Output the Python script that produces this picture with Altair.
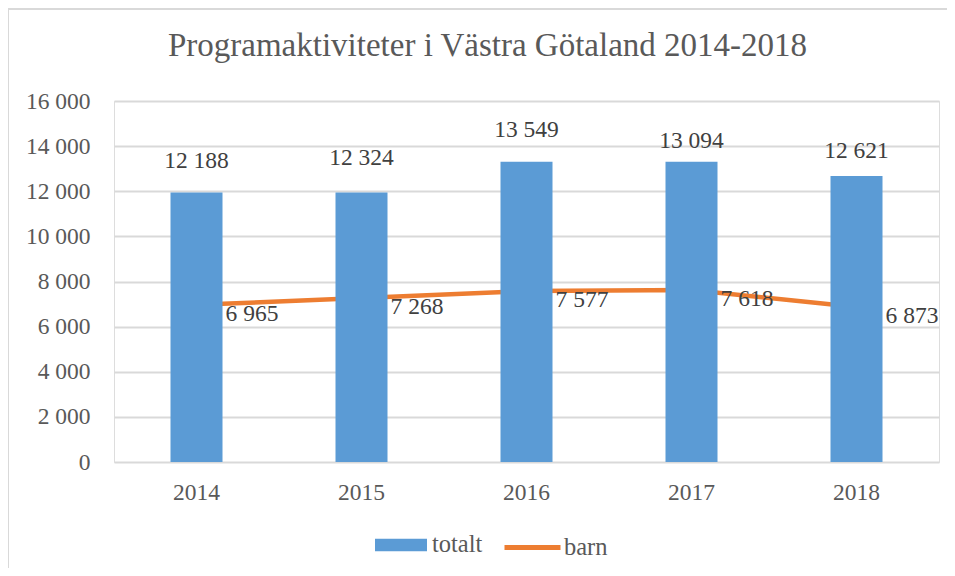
import altair as alt
import pandas as pd

years = ["2014", "2015", "2016", "2017", "2018"]
totalt_bar = [11940, 11940, 13310, 13310, 12680]   # bar heights as drawn
totalt_label = [12188, 12324, 13549, 13094, 12621]  # printed labels
barn = [6965, 7268, 7577, 7618, 6873]
y_ticks = [0, 2000, 4000, 6000, 8000, 10000, 12000, 14000, 16000]

def fmt(v):
    return f"{v:,}".replace(",", " ")

df = pd.DataFrame({
    "year": years,
    "totalt": totalt_bar,
    "totalt_lab": totalt_label,
    "totalt_txt": [fmt(v) for v in totalt_label],
    "barn": barn,
    "barn_txt": [fmt(v) for v in barn],
    "s_tot": ["totalt"] * 5,
    "s_barn": ["barn"] * 5,
})

FONT = "'Liberation Serif', 'Times New Roman', serif"
BLUE = "#5B9BD5"
ORANGE = "#ED7D31"
W, H = 825, 361

x = alt.X("year:N", title=None,
          scale=alt.Scale(paddingInner=0, paddingOuter=0),
          axis=alt.Axis(labelAngle=0, ticks=False, tickSize=0, domain=False, grid=False,
                        labelFont=FONT, labelFontSize=23.5, labelColor="#595959",
                        labelPadding=30, labelBaseline="middle"))
yscale = alt.Scale(domain=[0, 16000], nice=False)
yaxis = alt.Axis(values=y_ticks, ticks=False, tickSize=0, domain=False, grid=True,
                 gridColor="#D9D9D9", gridWidth=2, labelFont=FONT, labelFontSize=23.5,
                 labelColor="#595959", labelPadding=24,
                 labelExpr="replace(format(datum.value, ','), ',', ' ')")

leg_common = dict(title=None, orient="none", direction="horizontal",
                  labelFont=FONT, labelFontSize=24.5, labelColor="#595959")

bar_legend = alt.Legend(legendX=261, legendY=418, symbolSize=2704,
                        symbolType="M-1,-0.244H1V0.244H-1Z", symbolStrokeWidth=0,
                        labelOffset=5, **leg_common)
line_legend = alt.Legend(legendX=388, legendY=416, symbolSize=3136,
                         symbolType="stroke", symbolStrokeWidth=5,
                         labelOffset=1, **leg_common)

base = alt.Chart(df)

frame = alt.Chart(pd.DataFrame({"k": [0]})).mark_rect(
    fill=None, stroke="#D9D9D9", strokeWidth=2
).encode(x=alt.value(-106), x2=alt.value(W + 80), y=alt.value(-92), y2=alt.value(H + 160))

line = base.mark_line(strokeWidth=4.5, strokeCap="round").encode(
    x=x,
    y=alt.Y("barn:Q", scale=yscale, axis=yaxis, title=None),
    stroke=alt.Stroke("s_barn:N", scale=alt.Scale(domain=["barn"], range=[ORANGE]),
                      legend=line_legend),
)

bars = base.mark_bar(size=52).encode(
    x=x,
    y=alt.Y("totalt:Q", scale=yscale),
    fill=alt.Fill("s_tot:N", scale=alt.Scale(domain=["totalt"], range=[BLUE]),
                  legend=bar_legend),
)

bar_text = base.mark_text(font=FONT, fontSize=23.5, color="#404040", baseline="middle",
                          dy=-26).encode(
    x=x, y=alt.Y("totalt_lab:Q", scale=yscale), text="totalt_txt:N")

line_text = base.mark_text(font=FONT, fontSize=23.5, color="#404040", baseline="middle",
                           align="left", dx=29, dy=9).encode(
    x=x, y=alt.Y("barn:Q", scale=yscale), text="barn_txt:N")

chart = alt.layer(frame, line, bars, bar_text, line_text).properties(
    width=W, height=H,
    title=alt.TitleParams("Programaktiviteter i Västra Götaland 2014-2018", font=FONT,
                          fontSize=33, fontWeight="normal", color="#595959",
                          anchor="middle", frame="group", dx=-39, offset=-81,
                          baseline="alphabetic"),
    autosize=alt.AutoSizeParams(type="none"),
    padding={"left": 106, "top": 93, "right": 8, "bottom": 106},
).configure_view(stroke=None).configure(background="white")

chart.save("out.html", embed_options={"renderer": "svg", "actions": False})
